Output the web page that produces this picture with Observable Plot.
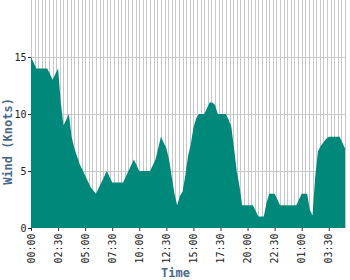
<!DOCTYPE html>
<html>
<head>
<meta charset="utf-8">
<script src="https://cdn.jsdelivr.net/npm/d3@7"></script>
<script src="https://cdn.jsdelivr.net/npm/@observablehq/plot@0.6"></script>
<style>
  html, body { margin: 0; padding: 0; background: #fff; }
</style>
</head>
<body>
<div id="chart"></div>
<script>
// Wind readings, one every 15 minutes starting at 00:00
const stepHours = 0.25;
const windKnots = [
  15, 14.5, 14, 14,
  14, 14, 14, 13.5,
  13, 13.5, 14, 11,
  9, 9.5, 10, 8,
  7, 6.3, 5.6, 5.1,
  4.6, 4.1, 3.6, 3.3,
  3, 3.5, 4, 4.5,
  5, 4.5, 4, 4,
  4, 4, 4, 4.5,
  5, 5.5, 6, 5.5,
  5, 5, 5, 5,
  5, 5.5, 6, 7,
  8, 7.5, 7, 6,
  4.5, 3, 2, 2.8,
  3.2, 4.6, 6.3, 7.3,
  8.8, 9.6, 10, 10,
  10, 10.5, 11, 11,
  10.8, 10, 10, 10,
  10, 9.5, 8.9, 7,
  5, 3.7, 2, 2,
  2, 2, 2, 1.5,
  1, 1, 1, 2.2,
  3, 3, 3, 2.5,
  2, 2, 2, 2,
  2, 2, 2, 2.5,
  3, 3, 3, 1.6,
  1.1, 4.5, 6.7, 7.2,
  7.5, 7.8, 8, 8,
  8, 8, 8, 7.5,
  7
];
const tickHours = [0, 2.5, 5, 7.5, 10, 12.5, 15, 17.5, 20, 22.5, 25, 27.5];
const tickLabels = ["00:00", "02:30", "05:00", "07:30", "10:00", "12:30", "15:00", "17:30", "20:00", "22:30", "01:00", "03:30"];
const yTicks = [0, 5, 10, 15];
const yGrid = [5, 10, 15];
const gridStepHours = 1 / 3;

const data = windKnots.map((v, i) => ({t: i * stepHours, v}));
const endHour = (windKnots.length - 1) * stepHours;
const gridHours = d3.range(0, endHour + 1e-9, gridStepHours);

const titleColor = "#4a6a8c";

const chart = Plot.plot({
  width: 350,
  height: 280,
  marginLeft: 31,
  marginRight: 5,
  marginTop: 0,
  marginBottom: 52,
  style: {fontFamily: "DejaVu Sans Mono", fontSize: "10px", background: "#fff", color: "#222"},
  x: {domain: [0, endHour]},
  y: {domain: [0, 20]},
  marks: [
    Plot.ruleX(gridHours, {stroke: "#c8c8c8", strokeWidth: 1, shapeRendering: "crispEdges"}),
    Plot.ruleY(yGrid, {stroke: "#c8c8c8", strokeWidth: 1, shapeRendering: "crispEdges"}),
    Plot.areaY(data, {x: "t", y: "v", fill: "#00897b", fillOpacity: 1}),
    Plot.axisX({ticks: tickHours, tickFormat: d => tickLabels[tickHours.indexOf(d)], tickRotate: -90, tickSize: 3, tickPadding: 2, label: null, stroke: "#333"}),
    Plot.axisY({ticks: yTicks, tickSize: 3, tickPadding: 2, label: null, stroke: "#333"}),
    Plot.text(["Wind (Knots)"], {frameAnchor: "left", textAnchor: "middle", lineAnchor: "middle", rotate: -90, dx: -23, dy: 27, fontWeight: "bold", fontSize: 12, fill: titleColor}),
    Plot.text(["Time"], {frameAnchor: "bottom", textAnchor: "middle", lineAnchor: "middle", dx: -13, dy: 45, fontWeight: "bold", fontSize: 12, fill: titleColor})
  ]
});
document.getElementById("chart").appendChild(chart);
</script>
</body>
</html>
